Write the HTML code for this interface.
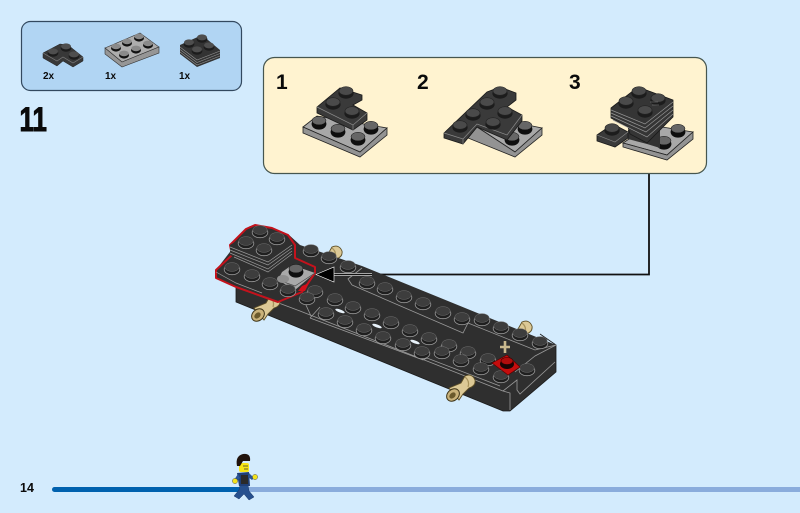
<!DOCTYPE html>
<html><head><meta charset="utf-8"><style>
html,body{margin:0;padding:0;background:#d3ebfd}
svg{display:block;filter:blur(.35px)}
text{font-family:"Liberation Sans",sans-serif;fill:#0a0a0a}
</style></head><body>
<svg width="800" height="513" viewBox="0 0 800 513" xmlns="http://www.w3.org/2000/svg">
<defs>
<g id="m"><ellipse cx="0" cy="1.5" rx="7.8" ry="5.2" fill="#1f1f1f" stroke="#9a9a9a" stroke-width=".8"/><ellipse cx="0" cy="-1" rx="7.2" ry="4.4" fill="#3d3d3d" stroke="#6f6f6f" stroke-width=".5"/></g>
<g id="d"><ellipse cx="0" cy="1.5" rx="7.6" ry="5.2" fill="#1c1c1c"/><ellipse cx="0" cy="-1" rx="7" ry="4.3" fill="#4a4a4a" stroke="#222" stroke-width=".6"/></g>
<g id="g"><ellipse cx="0" cy="2" rx="7.4" ry="5.6" fill="#0e0e0e"/><ellipse cx="0" cy="-1.4" rx="7" ry="4.3" fill="#666" stroke="#111" stroke-width=".5"/></g>
<g id="s"><ellipse cx="0" cy="1" rx="5.4" ry="3.8" fill="#1c1c1c"/><ellipse cx="0" cy="-.6" rx="5" ry="3" fill="#4e4e4e"/></g>
<g id="sg"><ellipse cx="0" cy="1" rx="5" ry="3.6" fill="#111"/><ellipse cx="0" cy="-.6" rx="4.7" ry="2.8" fill="#8a8a8a"/></g>
<g id="pin"><path d="M-9 -3 L3 -8 L7 -15 Q14 -18 17 -11 Q18 -5 11 -3 L5 3 L1 9Z" fill="#dcc996" stroke="#5c4e26" stroke-width=".9"/><path d="M7 -14 Q12 -10 10 -4" fill="none" stroke="#a8935c" stroke-width="1.200"/><ellipse cx="-5" cy="4" rx="5.500" ry="7" transform="rotate(48 -5 4)" fill="#c9b27a" stroke="#3f3518" stroke-width="1"/><ellipse cx="-5.500" cy="4.500" rx="2.600" ry="3.600" transform="rotate(48 -5.500 4.500)" fill="#6b5a2c"/></g>
</defs>
<rect width="800" height="513" fill="#d3ebfd"/>

<!-- parts box -->
<rect x="21.500" y="21.500" width="220" height="69" rx="9" fill="#b1d5f3" stroke="#33495f" stroke-width="1.200"/>
<path d="M43 53 L60 44 L68 45 L83 57 L83 61 L73 67 L63 61 L57 66 L43 58Z" fill="#383838" stroke="#222" stroke-width=".5"/>
<path d="M43 53 L57 61 L63 57 L73 63 L83 57" fill="none" stroke="#808080" stroke-width=".6"/>
<use href="#s" x="53" y="52"/><use href="#s" x="66" y="47"/><use href="#s" x="74" y="55"/>
<path d="M105 48 L140 33 L159 47 L122 62Z" fill="#adadad" stroke="#333" stroke-width=".6"/>
<path d="M105 48 L122 62 L159 47 L159 53 L122 67 L105 54Z" fill="#969696" stroke="#333" stroke-width=".6"/>
<use href="#sg" x="116" y="47"/><use href="#sg" x="127" y="42"/><use href="#sg" x="139" y="37"/><use href="#sg" x="124" y="54"/><use href="#sg" x="136" y="49"/><use href="#sg" x="148" y="44"/>
<path d="M202 35 L220 50 L220 58 L197 67 L180 54 L180 45Z" fill="#333"/>
<path d="M180 47 L197 60 L220 51 M180 49.500 L197 62.500 L220 53.500 M180 52 L197 65 L220 56" fill="none" stroke="#929292" stroke-width=".6"/>
<use href="#s" x="189" y="43"/><use href="#s" x="202" y="38"/><use href="#s" x="209" y="46"/><use href="#s" x="197" y="50"/>
<text x="43" y="79" font-size="10" font-weight="700">2x</text>
<text x="105" y="79" font-size="10" font-weight="700">1x</text>
<text x="179" y="79" font-size="10" font-weight="700">1x</text>
<text transform="translate(19.500 131) scale(.76 1)" font-size="34" font-weight="700" stroke="#0a0a0a" stroke-width="1">11</text>

<!-- callout -->
<path d="M649 174 V274.500 H370" fill="none" stroke="#111" stroke-width="1.800"/>
<rect x="263.500" y="57.500" width="443" height="116" rx="11" fill="#fff3d0" stroke="#46564f" stroke-width="1.200"/>
<text x="276" y="89" font-size="21" font-weight="700">1</text>
<text x="417" y="89" font-size="21" font-weight="700">2</text>
<text x="569" y="89" font-size="21" font-weight="700">3</text>

<!-- step 1 -->
<path d="M303 127 L317 116 L387 128 L360 152Z" fill="#a8a8a8" stroke="#222" stroke-width=".8"/>
<path d="M303 127 L360 152 L387 128 L387 135 L360 157 L303 133Z" fill="#939393" stroke="#222" stroke-width=".8"/>
<use href="#g" x="319" y="122"/><use href="#g" x="338" y="130"/><use href="#g" x="358" y="138"/><use href="#g" x="371" y="127"/>
<path d="M317 107 L340 88 L362 95 L362 100 L353 105 L367 113 L367 120 L353 130 L317 113Z" fill="#3a3a3a" stroke="#1a1a1a" stroke-width=".8"/>
<path d="M317 107 L353 125 L367 113 M353 125 L353 130" fill="none" stroke="#8a8a8a" stroke-width=".7"/>
<use href="#d" x="333" y="103"/><use href="#d" x="346" y="92"/><use href="#d" x="352" y="112"/>

<!-- step 2 -->
<path d="M477 127 L493 118 L542 128 L515 152Z" fill="#a8a8a8" stroke="#222" stroke-width=".8"/>
<path d="M477 127 L515 152 L542 128 L542 135 L515 157 L468 138Z" fill="#939393" stroke="#222" stroke-width=".8"/>
<use href="#g" x="525" y="127"/><use href="#g" x="512" y="138"/>
<path d="M444 133 L487 92 L500 87 L516 93 L516 100 L507 107 L522 115 L522 121 L507 140 L477 127 L463 144 L444 138Z" fill="#3a3a3a" stroke="#1a1a1a" stroke-width=".8"/>
<path d="M444 133 L463 139 L477 124 L507 135 L522 115 M463 139 L463 144" fill="none" stroke="#8a8a8a" stroke-width=".7"/>
<use href="#d" x="460" y="126"/><use href="#d" x="473" y="114"/><use href="#d" x="487" y="103"/><use href="#d" x="500" y="92"/><use href="#d" x="505" y="112"/><use href="#d" x="493" y="123"/>

<!-- step 3 -->
<path d="M623 143 L650 125 L693 132 L667 155Z" fill="#a8a8a8" stroke="#222" stroke-width=".8"/>
<path d="M623 143 L667 155 L693 132 L693 139 L667 160 L623 147Z" fill="#939393" stroke="#222" stroke-width=".8"/>
<use href="#g" x="678" y="130"/><use href="#g" x="664" y="142"/>
<path d="M628 130 L660 130 L660 148 L647 144 L628 139Z" fill="#333"/>
<path d="M597 135 L613 124 L628 132 L628 138 L615 147 L597 141Z" fill="#3a3a3a" stroke="#1a1a1a" stroke-width=".8"/>
<path d="M597 135 L615 142 L628 132" fill="none" stroke="#8a8a8a" stroke-width=".6"/>
<use href="#d" x="612" y="129"/>
<path d="M611 118 L611 108 L638 87 L673 100 L673 117 L647 143 L630 134 L628 127Z" fill="#353535" stroke="#1a1a1a" stroke-width=".8"/>
<path d="M611 110 L645 124 L673 102 M611 113 L645 128 L673 106 M611 116 L646 132 L673 110 M613 120 L647 137 L673 114" fill="none" stroke="#959595" stroke-width=".7"/>
<use href="#d" x="639" y="92"/><use href="#d" x="626" y="102"/><use href="#d" x="658" y="99"/><use href="#d" x="645" y="111"/>
<path d="M650 102 h8 M652 105 h7" stroke="#888" stroke-width=".6" fill="none"/>

<!-- pins behind -->
<use href="#pin" x="325" y="262"/>
<use href="#pin" x="515" y="337"/>

<!-- main body -->
<path d="M236 285 L216 278 L216 270 L250 226 L288 234 L300 245 L362 266 L556 345 L556 372 L510 411 L503 411 L236 302Z" fill="#2f2f2f"/>
<path d="M236 285 L236 302 L503 411 L510 411 L556 372 L556 345 L540 334" fill="none" stroke="#1b1b1b" stroke-width=".8"/>
<g fill="none" stroke="#9a9a9a" stroke-width=".8">
<path d="M236 287 L300 311 L503 391 L517 380 L517 390 L520 394 L555 362"/>
<path d="M503 391 L510 393 V410"/>
<path d="M556 345 L535 356 L515 372"/>
<path d="M352 285 L463 333 L468 323 L535 350 L556 345"/>
<path d="M352 285 L348 279 L362 268"/>
<path d="M310 318 L423 360 L427 358 L500 386"/>
<path d="M310 318 L320 307"/>
<path d="M300 296 L305 303 L311 316"/>
</g>
<!-- studs -->
<g>
<use href="#m" x="311" y="250"/><use href="#m" x="329" y="257"/><use href="#m" x="348" y="266"/>
<use href="#m" x="367" y="282"/><use href="#m" x="385" y="288"/><use href="#m" x="404" y="296"/><use href="#m" x="423" y="303"/><use href="#m" x="443" y="312"/><use href="#m" x="462" y="318"/>
<use href="#m" x="482" y="319"/><use href="#m" x="501" y="327"/><use href="#m" x="520" y="334"/><use href="#m" x="540" y="342"/>
<use href="#m" x="335" y="299"/><use href="#m" x="353" y="307"/><use href="#m" x="372" y="314"/><use href="#m" x="391" y="322"/><use href="#m" x="410" y="330"/><use href="#m" x="429" y="338"/><use href="#m" x="449" y="345"/><use href="#m" x="468" y="352"/><use href="#m" x="488" y="359"/>
<use href="#m" x="326" y="313"/><use href="#m" x="345" y="321"/><use href="#m" x="364" y="329"/><use href="#m" x="383" y="337"/><use href="#m" x="403" y="344"/><use href="#m" x="422" y="352"/><use href="#m" x="442" y="352"/><use href="#m" x="461" y="360"/><use href="#m" x="481" y="368"/><use href="#m" x="501" y="376"/><use href="#m" x="527" y="369"/>
<use href="#m" x="315" y="291"/><use href="#m" x="307" y="298"/>
</g>
<!-- white gaps -->
<ellipse cx="340" cy="311" rx="5" ry="1.500" fill="#e8f2fa" transform="rotate(20 340 311)"/>
<ellipse cx="377" cy="326" rx="5" ry="1.500" fill="#e8f2fa" transform="rotate(20 377 326)"/>
<ellipse cx="415" cy="342" rx="5" ry="1.500" fill="#e8f2fa" transform="rotate(20 415 342)"/>

<!-- red stud -->
<path d="M492 363 L507 355 L520 367 L508 375Z" fill="#c40d0d" stroke="#5a0000" stroke-width=".7"/>
<ellipse cx="507" cy="364" rx="7" ry="5" fill="#1a0505"/><ellipse cx="507" cy="361" rx="6" ry="3.500" fill="#b00c0c" stroke="#300" stroke-width=".6"/>
<path d="M505 341 V353 M500 347 H510" stroke="#c9b98e" stroke-width="2.600" fill="none"/>

<!-- front pins -->
<use href="#pin" x="263" y="311"/>
<use href="#pin" x="458" y="391"/>

<!-- red highlighted section -->
<path d="M216 270 L216 278 L236 287 L278 302 L302 292 L315 273 L315 267 L295 258 L295 245 L288 235 L272 228 L255 225 L246 229 L230 245 L232 255Z" fill="#2f2f2f" stroke="#c4121c" stroke-width="2" stroke-linejoin="round"/>
<use href="#m" x="232" y="268"/>
<path d="M216 272 L236 283 L262 293" fill="none" stroke="#9a9a9a" stroke-width=".7"/>
<path d="M230 255 L230 245 L258 228 L292 243 L292 257 L268 275Z" fill="#2f2f2f"/>
<path d="M230 247 L268 262 L292 245 M230 250 L268 265 L292 248 M230 253 L268 269 L292 251 M234 257 L268 272 L292 254" fill="none" stroke="#9a9a9a" stroke-width=".7"/>
<use href="#m" x="260" y="231"/><use href="#m" x="246" y="242"/><use href="#m" x="277" y="238"/><use href="#m" x="264" y="249"/>
<path d="M282 272 L292 265 L315 273 L295 290 L278 280Z" fill="#a9a9a9"/>
<path d="M278 280 L295 286 L315 273" fill="none" stroke="#444" stroke-width=".7"/>
<ellipse cx="283" cy="279" rx="6" ry="4" fill="#8f8f8f"/>
<use href="#g" x="296" y="270"/>
<use href="#m" x="252" y="275"/><use href="#m" x="270" y="283"/><use href="#m" x="288" y="290"/>
<path d="M302 286 L309 283 L305 291 L298 291Z" fill="#d3101a"/>

<!-- arrow -->
<path d="M332 274.500 H372" stroke="#fff" stroke-width="3"/>
<path d="M332 274.500 H372" stroke="#111" stroke-width="1.800"/>
<path d="M316 274.500 L334 267 V282Z" fill="#000" stroke="#fff" stroke-width=".6"/>

<!-- footer -->
<text x="20" y="492" font-size="12.500" font-weight="700">14</text>
<rect x="235" y="487" width="565" height="5" fill="#8aacdc"/>
<path d="M54.500 487 H240 V492 H54.500 a2.500 2.500 0 0 1 0-5Z" fill="#0061ae"/>

<!-- minifig -->
<path d="M240 485 L248 485 L249 491 L254 497 L249 500 L244 494 L239 499 L234 496 L239 490Z" fill="#27508e" stroke="#1b3768" stroke-width=".5"/>
<path d="M237 473 L249 472 L250 486 L239 486Z" fill="#1f3f77"/>
<rect x="241" y="475" width="7" height="9" fill="#2a2a2a"/>
<path d="M238 474 L234 480 L236 482 L240 478Z M249 473 L254 478 L252 480 L248 477Z" fill="#2a5596"/>
<circle cx="235" cy="481" r="2.600" fill="#f2e11c" stroke="#333" stroke-width=".4"/>
<circle cx="255" cy="477" r="2.600" fill="#f2e11c" stroke="#333" stroke-width=".4"/>
<rect x="239" y="463" width="10" height="9" rx="2" fill="#f7e516"/>
<path d="M237 466 Q235 456 243 454 Q251 453 250 461 L243 461 L240 466Z" fill="#21130c"/>
<path d="M243 466 h5 M244 469 h4" stroke="#333" stroke-width=".7"/>
</svg>
</body></html>
